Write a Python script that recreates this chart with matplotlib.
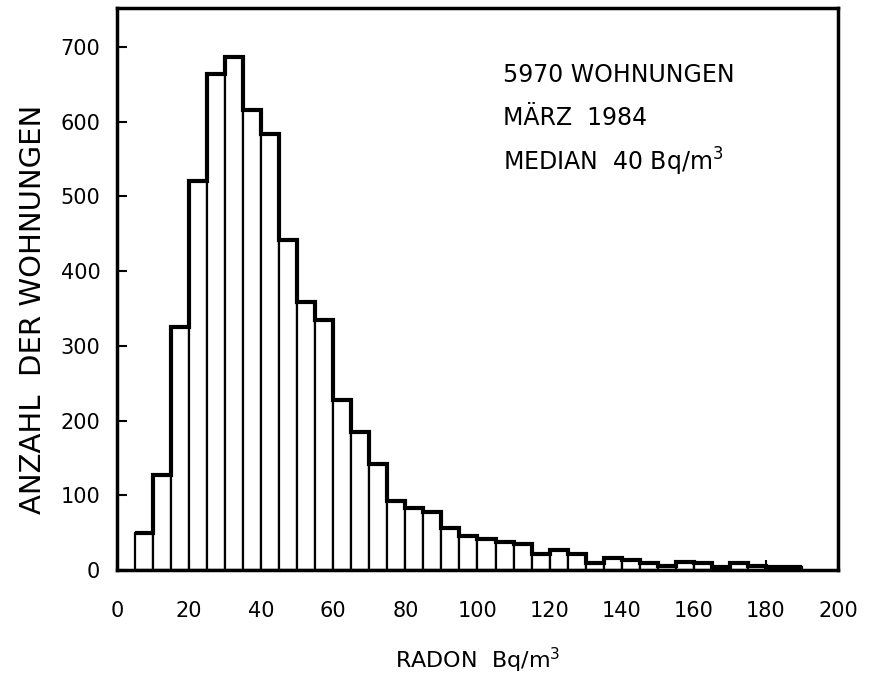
import matplotlib
matplotlib.use("Agg")
import matplotlib.pyplot as plt
import numpy as np

bin_left = list(range(5, 190, 5))
counts = [50, 127, 325, 521, 664, 686, 615, 583, 441, 359, 334, 227, 184, 142, 92,
          83, 77, 56, 46, 41, 37, 35, 22, 27, 21, 10, 16, 13, 10, 6, 11, 9, 4, 9, 6, 4, 4]
bin_width = 5
xticks = [0, 20, 40, 60, 80, 100, 120, 140, 160, 180, 200]
yticks = [0, 100, 200, 300, 400, 500, 600, 700]

plt.rcParams['font.family'] = ['DejaVu Sans']
fig = plt.figure(figsize=(8.73, 6.89), dpi=100)
ax = fig.add_axes([117/873, 1-570/689, (838-117)/873, (570-8)/689])

ax.bar(bin_left, counts, width=bin_width, align='edge', facecolor='white',
       edgecolor='black', linewidth=1.6)
# thicker outline
edges = np.array(bin_left + [bin_left[-1] + bin_width])
c = np.array(counts)
ax.stairs(c, edges, color='black', linewidth=3.0, baseline=None)

ax.set_xlim(0, 200)
ax.set_ylim(0, 752)
ax.set_xticks(xticks)
ax.set_yticks(yticks)
ax.tick_params(direction='in', length=7, width=1.5, labelsize=15)
ax.tick_params(axis='x', pad=22)
ax.tick_params(axis='y', pad=12)
for s in ax.spines.values():
    s.set_linewidth(2.5)

ax.set_xlabel(r'RADON  Bq/m$^3$', fontsize=16, labelpad=18)
ax.set_ylabel('ANZAHL  DER WOHNUNGEN', fontsize=21)
ax.yaxis.set_label_coords(-0.097, 0.463)

ax.text(0.535, 0.88, '5970 WOHNUNGEN', transform=ax.transAxes, fontsize=17, va='center')
ax.text(0.535, 0.805, 'MÄRZ  1984', transform=ax.transAxes, fontsize=17, va='center')
ax.text(0.535, 0.727, r'MEDIAN  40 Bq/m$^3$', transform=ax.transAxes, fontsize=17, va='center')

fig.savefig('out.png', dpi=100)
